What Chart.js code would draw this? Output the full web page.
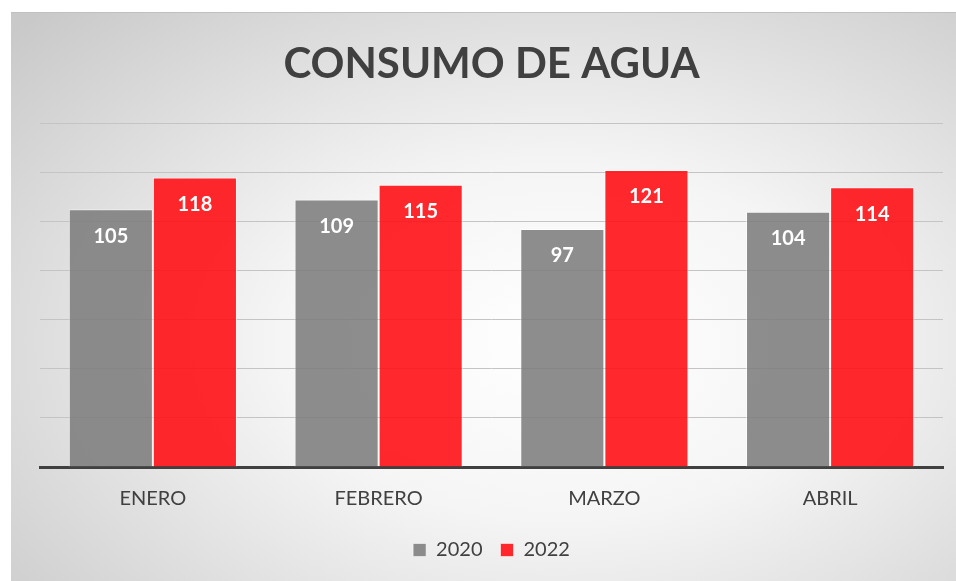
<!DOCTYPE html>
<html>
<head>
<meta charset="utf-8">
<script src="https://cdn.jsdelivr.net/npm/chart.js@4"></script>
<style>
  body { margin: 0; background: #fff; }
  #panel {
    position: absolute; left: 11px; top: 12px; width: 945px; height: 569px;
    background: radial-gradient(ellipse 78% 82% at 58% 58%, #ffffff 0%, #f5f5f5 38%, #c9c9c9 100%);
    border-top: 1px solid #c0c0c0;
    box-sizing: border-box;
  }
</style>
</head>
<body>
<div id="panel"><canvas id="myChart" width="945" height="568"></canvas></div>
<script>
// datos del gráfico
const meses = ['ENERO', 'FEBRERO', 'MARZO', 'ABRIL'];
const consumo2020 = [105, 109, 97, 104];
const consumo2022 = [118, 115, 121, 114];

// etiquetas blancas dentro de las barras
const etiquetasBarras = {
    id: 'etiquetasBarras',
    afterDatasetsDraw(chart) {
        const ctx = chart.ctx;
        ctx.save();
        ctx.fillStyle = '#ffffff';
        ctx.font = 'bold 20px Lato';
        ctx.textAlign = 'center';
        ctx.textBaseline = 'middle';
        chart.data.datasets.forEach((ds, i) => {
            chart.getDatasetMeta(i).data.forEach((bar, j) => {
                ctx.fillText(ds.data[j], bar.x, bar.y + 27);
            });
        });
        ctx.restore();
    }
};

const ctx = document.getElementById('myChart').getContext('2d');
const myChart = new Chart(ctx, {
    type: 'bar',
    data: {
        labels: meses,
        datasets: [{
            label: '2020',
            data: consumo2020,
            backgroundColor: 'rgba(125, 125, 125, 0.88)',
            borderColor: 'rgba(255, 255, 255, 0.55)',
            borderWidth: 1
        }, {
            label: '2022',
            data: consumo2022,
            backgroundColor: 'rgba(255, 18, 22, 0.9)',
            borderColor: 'rgba(255, 255, 255, 0.55)',
            borderWidth: 1
        }]
    },
    options: {
        responsive: false,
        animation: false,
        layout: { padding: { left: 29, right: 13, top: 0, bottom: 11 } },
        datasets: { bar: { categoryPercentage: 0.745, barPercentage: 1 } },
        plugins: {
            title: {
                display: true,
                text: 'CONSUMO DE AGUA',
                color: '#404040',
                font: { family: 'Lato', size: 42, weight: 'bold' },
                padding: { top: 26, bottom: 34 }
            },
            legend: {
                position: 'bottom',
                labels: {
                    color: '#404040',
                    font: { family: 'Lato', size: 20 },
                    boxWidth: 13,
                    boxHeight: 13,
                    padding: 18
                }
            },
            tooltip: { enabled: false }
        },
        scales: {
            x: {
                grid: { display: false },
                border: { color: '#404040', width: 3 },
                ticks: { color: '#404040', font: { family: 'Lato', size: 20 }, padding: 12 },
                afterFit(scale) { scale.height -= 1; }
            },
            y: {
                min: 0,
                max: 140,
                ticks: { display: false, stepSize: 20 },
                grid: { color: '#c4c4c4', drawTicks: false },
                border: { display: false }
            }
        }
    },
    plugins: [etiquetasBarras]
});
</script>
</body>
</html>
